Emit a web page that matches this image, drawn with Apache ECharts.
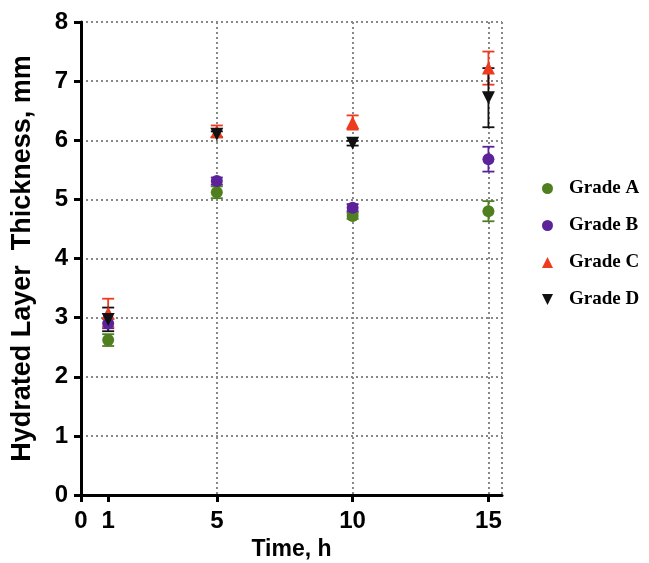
<!DOCTYPE html>
<html>
<head>
<meta charset="utf-8">
<script src="https://cdn.jsdelivr.net/npm/echarts@6/dist/echarts.min.js"></script>
<style>html,body{margin:0;padding:0;background:#fff;}#c{width:649px;height:563px;}</style>
</head>
<body>
<div id="c"></div>
<script>
const times = [1, 5, 10, 15];
const xTickLabels = [0, 1, 5, 10, 15];
const yTicks = [0, 1, 2, 3, 4, 5, 6, 7, 8];
const gradeNames = ['Grade A', 'Grade B', 'Grade C', 'Grade D'];
const gradeA = [2.62, 5.12, 4.72, 4.80];
const gradeAErr = [0.10, 0.10, 0.05, 0.17];
const gradeB = [2.90, 5.31, 4.86, 5.68];
const gradeBErr = [0.08, 0.06, 0.06, 0.21];
const gradeC = [3.08, 6.15, 6.30, 7.22];
const gradeCErr = [0.24, 0.10, 0.12, 0.28];
const gradeD = [2.97, 6.10, 5.95, 6.72];
const gradeDErr = [0.20, 0.05, 0.04, 0.50];

const values = [gradeA, gradeB, gradeC, gradeD];
const errs = [gradeAErr, gradeBErr, gradeCErr, gradeDErr];
const colors = ['#4f7f1f', '#5b2299', '#ee3a1e', '#111111'];
const downTri = 'path://M0,0 L10,0 L5,10 Z';
const symbols = ['circle', 'circle', 'triangle', downTri];
const sizes = [12, 12, 13, 13];

const series = [];
values.forEach((vals, i) => {
  const errData = times.map((t, j) => [t, vals[j] - errs[i][j], vals[j] + errs[i][j]]);
  series.push({
    name: gradeNames[i] + ' err',
    type: 'custom',
    xAxisIndex: 0,
    yAxisIndex: 0,
    z: 2,
    silent: true,
    data: errData,
    renderItem: function (params, api) {
      const x = api.value(0);
      const lo = api.coord([x, api.value(1)]);
      const hi = api.coord([x, api.value(2)]);
      const w = 6;
      const st = { stroke: colors[i], lineWidth: 1.8 };
      return {
        type: 'group',
        children: [
          { type: 'line', shape: { x1: lo[0], y1: lo[1], x2: hi[0], y2: hi[1] }, style: st },
          { type: 'line', shape: { x1: lo[0] - w, y1: lo[1], x2: lo[0] + w, y2: lo[1] }, style: st },
          { type: 'line', shape: { x1: hi[0] - w, y1: hi[1], x2: hi[0] + w, y2: hi[1] }, style: st }
        ]
      };
    }
  });
});
values.forEach((vals, i) => {
  series.push({
    name: gradeNames[i],
    type: 'scatter',
    xAxisIndex: 0,
    yAxisIndex: 0,
    z: 3,
    symbol: symbols[i],
    symbolSize: sizes[i],
    itemStyle: { color: colors[i], opacity: 1 },
    data: times.map((t, j) => [t, vals[j]])
  });
});

const chart = echarts.init(document.getElementById('c'));
chart.setOption({
  animation: false,
  backgroundColor: '#fff',
  grid: { left: 81, right: 147, top: 22, bottom: 68, containLabel: false, outerBoundsMode: 'none' },
  legend: {
    orient: 'vertical',
    left: 537,
    top: 174,
    itemGap: 18,
    itemWidth: 11,
    itemHeight: 11,
    data: gradeNames.map((n, i) => ({ name: n, icon: symbols[i], itemStyle: { color: colors[i] } })),
    textStyle: { fontFamily: 'Liberation Serif', fontWeight: 'bold', fontSize: 19, color: '#000', padding: [0, 0, 0, 11] }
  },
  xAxis: [
    {
      type: 'value', min: 0, max: 15.5, interval: 5,
      name: 'Time, h', nameLocation: 'middle', nameGap: 42,
      nameTextStyle: { fontFamily: 'Liberation Sans', fontWeight: 'bold', fontSize: 23, color: '#000' },
      axisLine: { show: true, lineStyle: { color: '#000', width: 3 } },
      axisTick: { show: true, length: 7, lineStyle: { color: '#000', width: 3 }, customValues: xTickLabels },
      axisLabel: { fontFamily: 'Liberation Sans', fontWeight: 'bold', fontSize: 24, color: '#000', margin: 14, customValues: xTickLabels, formatter: v => String(v) },
      splitLine: { show: false }
    },
    {
      type: 'value', min: 0, max: 15.5, interval: 5, position: 'bottom',
      axisLine: { show: false }, axisTick: { show: false }, axisLabel: { show: false },
      splitLine: { show: true, lineStyle: { color: '#888', type: [2, 3], width: 2 } }
    }
  ],
  yAxis: {
    type: 'value', min: 0, max: 8, interval: 1,
    name: 'Hydrated Layer  Thickness, mm', nameLocation: 'middle', nameGap: 45,
    nameTextStyle: { fontFamily: 'Liberation Sans', fontWeight: 'bold', fontSize: 27, color: '#000' },
    axisLine: { show: true, lineStyle: { color: '#000', width: 3 } },
    axisTick: { show: true, length: 7, lineStyle: { color: '#000', width: 3 } },
    axisLabel: { fontFamily: 'Liberation Sans', fontWeight: 'bold', fontSize: 24, color: '#000', margin: 13, formatter: v => String(v) },
    splitLine: { show: true, lineStyle: { color: '#888', type: [2, 3], width: 2 } }
  },
  series: series
});
</script>
</body>
</html>
